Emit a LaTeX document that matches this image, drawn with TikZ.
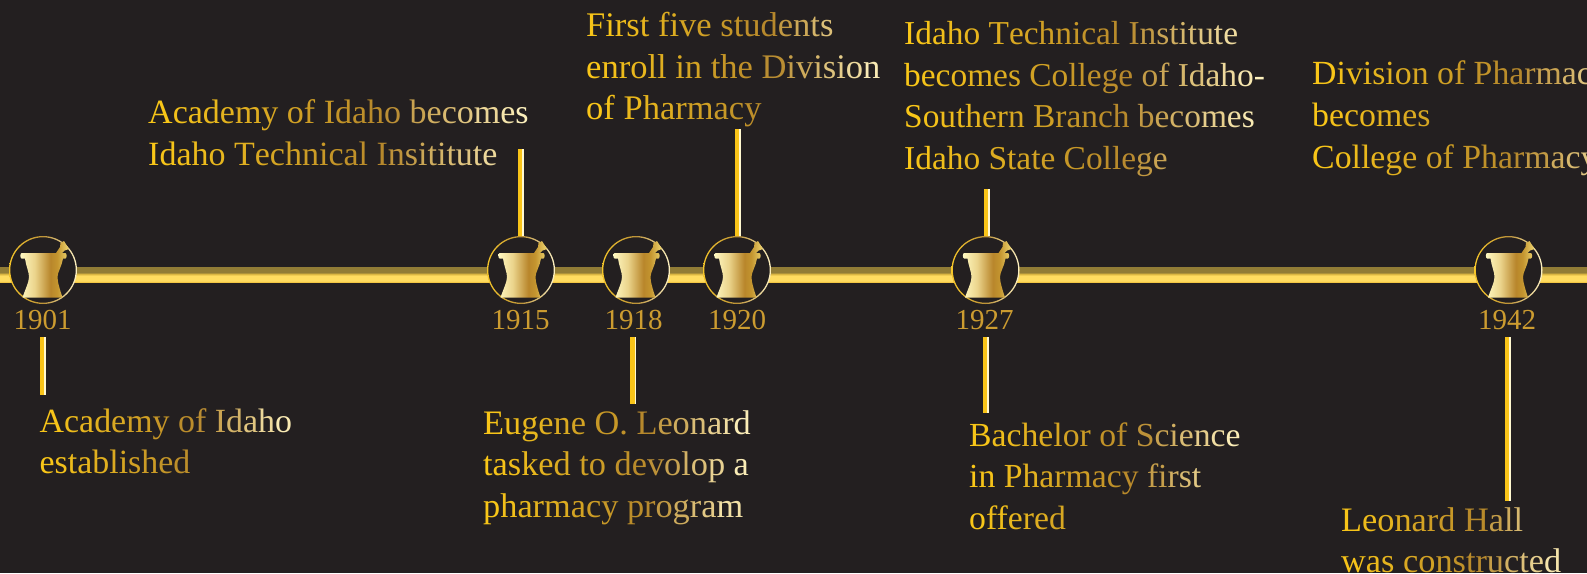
\documentclass[tikz,border=0pt]{standalone}
\usepackage{fontspec}
\setmainfont{Liberation Serif}
\definecolor{bgdark}{HTML}{231F20}
\definecolor{yeargold}{HTML}{CC9C30}
\definecolor{tickyellow}{HTML}{F9C418}
\definecolor{tickcream}{HTML}{FFF8D0}
\definecolor{barA}{HTML}{F2C644}
\definecolor{barB}{HTML}{FFDC60}
\definecolor{barC}{HTML}{D8B440}
\definecolor{barE}{HTML}{917C36}
\definecolor{morA}{HTML}{FFF9C2}
\definecolor{morB}{HTML}{EBD48C}
\definecolor{morC}{HTML}{B8862B}
\definecolor{morD}{HTML}{C4952F}
\definecolor{morE}{HTML}{EFD672}
\definecolor{rinA}{HTML}{F5C52A}
\definecolor{rinB}{HTML}{BC9238}
\definecolor{rinC}{HTML}{FFF3C4}
\pgfdeclareverticalshading{barshade}{100bp}{
 color(0bp)=(barA);color(25bp)=(barA);color(29bp)=(barB);color(46bp)=(barB);color(52bp)=(barC);color(57bp)=(barE);color(75bp)=(barE);color(100bp)=(barE)}
\pgfdeclarehorizontalshading{mortarshade}{100bp}{
 color(0bp)=(morA);color(25bp)=(morA);color(40bp)=(morB);color(56bp)=(morC);color(63bp)=(morD);color(75bp)=(morE);color(100bp)=(morE)}
\pgfdeclarehorizontalshading{ringshade}{100bp}{
 color(0bp)=(rinA);color(25bp)=(rinA);color(50bp)=(rinB);color(75bp)=(rinC);color(100bp)=(rinC)}
\ExplSyntaxOn
\dim_new:N \l_gt_x_dim
\dim_new:N \l_gt_w_dim
\fp_new:N \l_gt_t_fp
\bool_new:N \l_gt_first_bool
\box_new:N \l_gt_box
\cs_new:Npn \gt_mix:nnn #1#2#3
 { \fp_eval:n { round( (\l_gt_t_fp<0.62) ? (#1+(#2-#1)*\l_gt_t_fp/0.62) : (#2+(#3-#2)*(\l_gt_t_fp-0.62)/0.38) ,0) } }
\cs_new_protected:Npn \gt_char:n #1
 {
  \hbox_set:Nn \l_gt_box {#1}
  \fp_set:Nn \l_gt_t_fp { min(1,(\dim_to_fp:n{\l_gt_x_dim}+0.5*\dim_to_fp:n{\box_wd:N \l_gt_box})/\dim_to_fp:n{\l_gt_w_dim}) }
  \color[RGB]{\gt_mix:nnn{252}{182}{255},\gt_mix:nnn{201}{136}{243},\gt_mix:nnn{23}{44}{192}}
  #1
  \dim_add:Nn \l_gt_x_dim { \box_wd:N \l_gt_box }
 }
\cs_new_protected:Npn \gt_line:n #1
 {
  \dim_zero:N \l_gt_x_dim
  \bool_set_true:N \l_gt_first_bool
  \hbox:n
   {
    \seq_set_split:Nnn \l_tmpa_seq {~} {#1}
    \seq_map_inline:Nn \l_tmpa_seq
     {
      \bool_if:NTF \l_gt_first_bool
       { \bool_set_false:N \l_gt_first_bool }
       { \c_space_tl \dim_add:Nn \l_gt_x_dim { \fontdimen2\font } }
      \tl_map_function:nN {##1} \gt_char:n
     }
   }
 }
\NewDocumentCommand \gblock { O{41.5} m m }
 {
  \dim_set:Nn \l_gt_w_dim {#2pt}
  \vtop
   {
    \baselineskip=#1pt \lineskiplimit=-100pt
    \clist_map_inline:nn {#3} { \gt_line:n {##1} }
   }
 }
\ExplSyntaxOff
\tikzset{
 mortar/.pic={
  \shade[shading=mortarshade]
   (-21.5,-17) -- (13,-17) -- (17,-23) -- (17.5,-27) -- (21,-29) -- (26,-21) -- (21.5,-19.5) -- (19,-17) -- (22.5,-17)
   .. controls (24,-16.5) and (24,-12) .. (22.5,-11.5) -- (20,-11.5)
   .. controls (19,-4) and (14.5,2) .. (14.5,7)
   .. controls (14.5,12) and (17,20) .. (19.5,27.5) -- (-20.5,27.5)
   .. controls (-18,20) and (-14,12) .. (-14,7)
   .. controls (-14,2) and (-17,-4) .. (-18,-11.5) -- (-21.5,-11.5)
   .. controls (-23,-12) and (-23,-16.5) .. (-21.5,-17) -- cycle;
 },
 disc/.style={circle,fill=bgdark,minimum size=67pt,inner sep=0pt},
 yearlabel/.style={anchor=base,font=\fontsize{29}{30}\selectfont,text=yeargold,inner xsep=0pt,inner ysep=8pt},
 story/.style={anchor=base west,inner sep=0pt,font=\fontsize{#1}{41.5}\selectfont},
 tickgold/.style={draw=tickyellow,line width=4.2pt},
 tickpale/.style={draw=tickcream,line width=1.9pt},
}
\newcommand{\ring}[1]{%
 \shade[shading=ringshade,even odd rule] (#1) circle (34pt) circle (32.7pt);
 \pic at (#1) {mortar};}
\begin{document}
\begin{tikzpicture}[x=1pt,y=-1pt]
\useasboundingbox (0,0) rectangle (1587,573);
\fill[bgdark] (0,0) rectangle (1587,573);
\begin{scope}
\clip (0,0) rectangle (1587,573);
\shade[shading=barshade] (0,267) rectangle (1587,282);
% discs
\foreach \nm/\px in {c1901/43,c1915/521,c1918/636,c1920/737,c1927/985.5,c1942/1508.5}
 {\node[disc] (\nm) at (\px,270) {}; \ring{\nm.center}}
% years
\node[yearlabel] (y1901) at (42.5,329) {1901};
\node[yearlabel] (y1915) at (520.5,329) {1915};
\node[yearlabel] (y1918) at (633.5,329) {1918};
\node[yearlabel] (y1920) at (737,329) {1920};
\node[yearlabel] (y1927) at (984.5,329) {1927};
\node[yearlabel] (y1942) at (1507,329) {1942};
% stories
\node[story=33.9] (s1901) at (39.5,432) {\gblock{252}{Academy of Idaho,established}};
\node[story=34] (s1915) at (148,123.5) {\gblock{379}{Academy of Idaho becomes,Idaho Technical Insititute}};
\node[story=34.3] (s1918) at (483,434) {\gblock{265}{Eugene O. Leonard,tasked to devolop a,pharmacy program}};
\node[story=34.5] (s1920) at (586,36.5) {\gblock{295}{{Fi}rst {fi}ve students,enroll in the Division,of Pharmacy}};
\node[story=33.4] (s1927a) at (904,44.5) {\gblock{357}{Idaho Technical Institute,becomes College of Idaho-,Southern Branch becomes,Idaho State College}};
\node[story=33.7] (s1927b) at (969,446) {\gblock{270}{Bachelor of Science,in Pharmacy {fi}rst,o{ff}ered}};
\node[story=33.8] (s1942a) at (1312,84) {\gblock[42]{330}{Division of Pharmacy,becomes,College of Pharmacy}};
\node[story=34.3] (s1942b) at (1341,531) {\gblock{224}{Leonard Hall,was constructed}};
% leader ends
\coordinate (t1901) at (43,395);
\coordinate (t1915) at (521,149);
\coordinate (t1918) at (633.5,404);
\coordinate (t1920) at (738,129);
\coordinate (t1927a) at (987,189);
\coordinate (t1927b) at (986,412.7);
\coordinate (t1942) at (1508,501);
% leaders: both ends share the x of the named end
\foreach \a/\b in {c1915.north/t1915,c1920.north/t1920,c1927.north/t1927a,y1901.south/t1901,y1918.south/t1918,y1927.south/t1927b,y1942.south/t1942}
 {\draw[tickgold] ([xshift=-1pt]\a -| \b) -- ([xshift=-1pt]\b);
  \draw[tickpale] ([xshift=2pt]\a -| \b) -- ([xshift=2pt]\b);}
\end{scope}
\end{tikzpicture}
\end{document}
